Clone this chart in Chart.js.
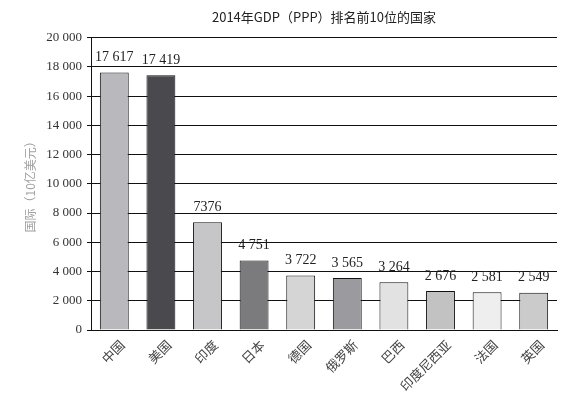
<!DOCTYPE html>
<html>
<head>
<meta charset="utf-8">
<script src="https://cdn.jsdelivr.net/npm/chart.js@4"></script>
<style>
  html, body { margin: 0; padding: 0; background: #fff; }
  #wrap { width: 566px; height: 396px; }
</style>
</head>
<body>
<div id="wrap"><canvas id="grafico"></canvas></div>
<script>
const paises = ['中国', '美国', '印度', '日本', '德国', '俄罗斯', '巴西', '印度尼西亚', '法国', '英国'];
const pib = [17617, 17419, 7376, 4751, 3722, 3565, 3264, 2676, 2581, 2549];
const rotulos = ['17 617', '17 419', '7376', '4 751', '3 722', '3 565', '3 264', '2 676', '2 581', '2 549'];
const cores = ['#b9b9bd', '#4a4a4e', '#c6c6c8', '#7b7b7d', '#d5d5d5', '#9b9b9f', '#e2e2e2', '#c2c2c2', '#eeeeee', '#cbcbcb'];

const serif = '"Liberation Serif", "DejaVu Serif", serif';
const cjk = '"Noto Sans CJK SC", sans-serif';

function formatarMilhar(v) {
  return String(v).replace(/\B(?=(\d{3})+(?!\d))/g, ' ');
}

// rótulos de valor em cima das barras
const rotuloPlugin = {
  id: 'rotuloValores',
  afterDatasetsDraw(chart) {
    const ctx = chart.ctx;
    const meta = chart.getDatasetMeta(0);
    ctx.save();
    ctx.font = '14px ' + serif;
    ctx.fillStyle = '#222';
    ctx.textAlign = 'center';
    ctx.textBaseline = 'bottom';
    meta.data.forEach((bar, i) => {
      ctx.fillText(rotulos[i], bar.x, bar.y - 8);
    });
    ctx.restore();
  }
};

const ctx = document.getElementById('grafico').getContext('2d');
window.grafico = new Chart(ctx, {
  type: 'bar',
  data: {
    labels: paises,
    datasets: [{
      data: pib,
      backgroundColor: cores,
      borderColor: '#111',
      borderWidth: 1,
      barPercentage: 0.62,
      categoryPercentage: 1
    }]
  },
  options: {
    responsive: true,
    maintainAspectRatio: false,
    animation: false,
    layout: { padding: { left: 23, right: 9, top: 0, bottom: 0 } },
    plugins: {
      legend: { display: false },
      tooltip: { enabled: false },
      title: {
        display: true,
        fullSize: false,
        text: '2014年GDP（PPP）排名前10位的国家',
        color: '#222',
        font: { family: cjk, size: 13, weight: 'normal' },
        padding: { top: 9, bottom: 13 }
      }
    },
    scales: {
      x: {
        grid: { display: false, drawTicks: false },
        border: { display: true, color: '#111', width: 1 },
        ticks: {
          color: '#444',
          font: { family: cjk, size: 13 },
          maxRotation: 45,
          minRotation: 45,
          labelOffset: 8,
          padding: 7
        },
        afterFit(scale) { scale.height = 66; }
      },
      y: {
        min: 0,
        max: 20000,
        grid: { color: '#111', lineWidth: 1, tickLength: 4 },
        border: { display: true, color: '#111', width: 1 },
        ticks: {
          stepSize: 2000,
          color: '#333',
          font: { family: serif, size: 13 },
          padding: 5,
          callback: v => formatarMilhar(v)
        },
        title: {
          display: true,
          text: '国际（10亿美元）',
          color: '#a0a0a0',
          font: { family: cjk, size: 12 },
          padding: { top: 0, bottom: 6 }
        },
        afterFit(scale) { scale.width = 68; }
      }
    }
  },
  plugins: [rotuloPlugin]
});
</script>
</body>
</html>
